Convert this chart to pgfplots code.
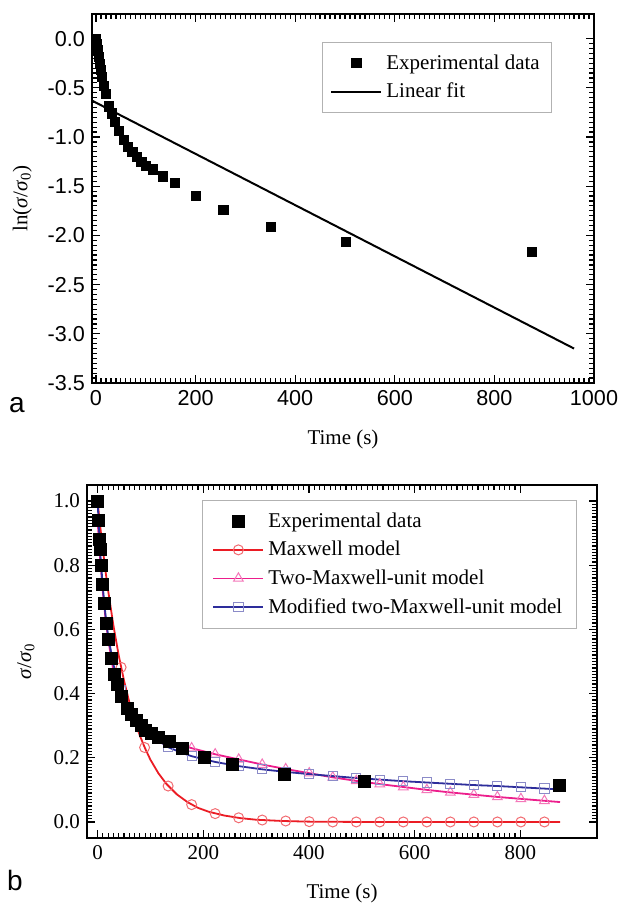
\documentclass[border=0pt]{standalone}
\usepackage{fontspec}
\setmainfont{Liberation Serif}
\newfontfamily\sansf{Liberation Sans}
\usepackage{pgfplots}
\pgfplotsset{compat=1.18}
\definecolor{mxred}{RGB}{235,28,36}
\definecolor{mxmag}{RGB}{236,30,140}
\definecolor{mxblue}{RGB}{45,45,155}
\pgfplotsset{
  common/.style={
    scale only axis, anchor=north west,
    tick align=inside, xtick pos=both, ytick pos=both,
    xticklabel pos=bottom, yticklabel pos=left,
    major tick length=4pt, minor tick length=2.4pt,
    tick style={black, line width=0.6pt},
    axis line style={line width=0.9pt},
    /pgf/number format/assume math mode=true,
    /pgf/number format/1000 sep={},
    legend cell align=left,
    legend image code/.code={\draw[mark repeat=2,mark phase=2,##1] plot coordinates {(0pt,0pt) (12.5pt,0pt) (25pt,0pt)};},
    label style={font=\fontsize{10.5}{12}\selectfont},
  }
}
\begin{document}
\begin{tikzpicture}
% ---------------- panel a
\begin{axis}[common,
  at={(46pt,-7pt)}, width=251pt, height=184.5pt,
  xmin=-8, xmax=1000, ymin=-3.5, ymax=0.25,
  xtick={0,200,...,1000}, ytick={-3.5,-3,...,0},
  minor x tick num=19, minor y tick num=9,
  tick label style={font=\sansf\fontsize{10.8}{12}\selectfont},
  yticklabel style={/pgf/number format/.cd, fixed, fixed zerofill, precision=1},
  xlabel={Time (s)},
  xlabel style={at={(axis description cs:0.5,-0.154)}, anchor=center},
  ylabel={ln(\textit{σ}/\textit{σ}\textsubscript{0})},
  ylabel style={at={(axis description cs:-0.139,0.5)}, anchor=center},
  legend style={at={(axis description cs:0.458,0.924)}, anchor=north west,
    draw=gray!60, line width=0.5pt, inner xsep=4pt, inner ysep=4pt,
    font=\fontsize{10.5}{12}\selectfont, row sep=1.5pt},
]
\addplot[only marks, mark=square*, mark size=2.3pt, black] coordinates {
(0,0.0)(2,-0.05)(4,-0.12)(6,-0.19)(8,-0.26)(10,-0.32)(12,-0.39)(16,-0.48)(20,-0.56)
(26,-0.69)(32,-0.76)(38,-0.85)(46,-0.94)(56,-1.03)(64,-1.10)(73,-1.15)(82,-1.20)
(91,-1.25)(101,-1.29)(115,-1.33)(135,-1.40)(158,-1.47)(200,-1.60)(256,-1.74)
(352,-1.91)(502,-2.07)(875,-2.17)};
\addlegendentry{Experimental data}
\addplot[black, line width=1pt] coordinates {(-8,-0.63)(960,-3.15)};
\addlegendentry{Linear fit}
\end{axis}
% ---------------- panel b
\begin{axis}[common,
  at={(43.5pt,-242.5pt)}, width=255pt, height=176.5pt,
  xmin=-20, xmax=945, ymin=-0.05, ymax=1.05,
  xtick={0,200,...,800}, ytick={0,0.2,...,1.0},
  minor x tick num=19, minor y tick num=19,
  tick label style={font=\fontsize{10.5}{12}\selectfont},
  yticklabel style={/pgf/number format/.cd, fixed, fixed zerofill, precision=1},
  xlabel={Time (s)},
  xlabel style={at={(axis description cs:0.5,-0.156)}, anchor=center},
  ylabel={\textit{σ}/\textit{σ}\textsubscript{0}},
  ylabel style={at={(axis description cs:-0.12,0.5)}, anchor=center},
  legend style={at={(axis description cs:0.2255,0.9575)}, anchor=north west,
    draw=gray!60, line width=0.5pt, inner xsep=5pt, inner ysep=4pt,
    font=\fontsize{10.5}{12}\selectfont, row sep=1.5pt},
]
% Maxwell model
\addplot[mxred, line width=0.9pt, forget plot] coordinates {
(0,1.000)(5,0.921)(10,0.849)(15,0.782)(20,0.721)(30,0.612)(40,0.519)(50,0.441)(60,0.374)
(70,0.317)(80,0.269)(90,0.229)(100,0.194)(115,0.152)(130,0.119)(150,0.086)(170,0.062)
(190,0.044)(210,0.032)(240,0.020)(270,0.012)(300,0.007)(350,0.003)(400,0.001)(500,0.0)(875,0.0)};
\addplot[only marks, mark=o, mark size=2.5pt, mark options={draw=mxred!65, line width=0.5pt}, forget plot] coordinates {
(0,1.0)(44.5,0.482)(89,0.232)(133.5,0.112)(178,0.054)(222.5,0.026)(267,0.013)(311.5,0.006)
(356,0.003)(400.5,0.001)(445,0.0)(489.5,0.0)(534,0.0)(578.5,0.0)(623,0.0)(667.5,0.0)
(712,0.0)(756.5,0.0)(801,0.0)(845.5,0.0)};
% Two-Maxwell-unit model
\addplot[mxmag, line width=0.9pt, forget plot] coordinates {
(0,0.941)(5,0.817)(10,0.716)(15,0.635)(20,0.569)(30,0.471)(44.5,0.384)(60,0.332)(75,0.302)
(89,0.284)(110,0.265)(133.5,0.251)(178,0.230)(222.5,0.211)(267,0.195)(311.5,0.179)
(356,0.165)(400.5,0.152)(445,0.139)(489.5,0.128)(534,0.118)(578.5,0.109)(623,0.100)
(667.5,0.092)(712,0.085)(756.5,0.078)(801,0.072)(845.5,0.066)(875,0.062)};
\addplot[only marks, mark=triangle, mark size=2.8pt, mark options={draw=mxmag!60, line width=0.5pt}, forget plot] coordinates {
(0,0.941)(44.5,0.384)(89,0.284)(133.5,0.251)(178,0.230)(222.5,0.211)(267,0.195)(311.5,0.179)
(356,0.165)(400.5,0.152)(445,0.139)(489.5,0.128)(534,0.118)(578.5,0.109)(623,0.100)
(667.5,0.092)(712,0.085)(756.5,0.078)(801,0.072)(845.5,0.066)};
% Modified two-Maxwell-unit model
\addplot[mxblue, line width=0.9pt, forget plot] coordinates {
(0,1.0)(5,0.84)(10,0.73)(15,0.645)(20,0.58)(30,0.49)(44.5,0.41)(60,0.355)(75,0.315)(89,0.29)
(110,0.258)(133.5,0.233)(160,0.215)(178,0.205)(222.5,0.187)(267,0.174)(311.5,0.164)
(356,0.156)(400.5,0.149)(445,0.143)(489.5,0.137)(534,0.132)(578.5,0.127)(623,0.123)
(667.5,0.119)(712,0.115)(756.5,0.112)(801,0.108)(845.5,0.104)(875,0.101)};
\addplot[only marks, mark=square, mark size=2.3pt, mark options={draw=mxblue!55, line width=0.5pt}, forget plot] coordinates {
(0,1.0)(44.5,0.41)(89,0.29)(133.5,0.233)(178,0.205)(222.5,0.187)(267,0.174)(311.5,0.164)
(356,0.156)(400.5,0.149)(445,0.143)(489.5,0.137)(534,0.132)(578.5,0.127)(623,0.123)
(667.5,0.119)(712,0.115)(756.5,0.112)(801,0.108)(845.5,0.104)};
% Experimental data
\addplot[only marks, mark=square*, mark size=3pt, black, forget plot] coordinates {
(0,1.00)(2,0.94)(4,0.88)(6,0.85)(8,0.80)(10,0.74)(12,0.68)(16,0.62)(20,0.57)(26,0.51)
(32,0.46)(38,0.43)(46,0.39)(56,0.355)(64,0.335)(73,0.315)(82,0.30)(91,0.285)(101,0.275)
(115,0.265)(135,0.25)(160,0.23)(202,0.20)(255,0.178)(354,0.147)(504,0.126)(874,0.115)};
\addlegendimage{only marks, mark=square*, mark size=3pt, black}
\addlegendentry{Experimental data}
\addlegendimage{mxred, line width=0.9pt, mark=o, mark size=2.5pt, mark options={draw=mxred!65, line width=0.5pt}}
\addlegendentry{Maxwell model}
\addlegendimage{mxmag, line width=0.9pt, mark=triangle, mark size=2.8pt, mark options={draw=mxmag!60, line width=0.5pt}}
\addlegendentry{Two-Maxwell-unit model}
\addlegendimage{mxblue, line width=0.9pt, mark=square, mark size=2.3pt, mark options={draw=mxblue!55, line width=0.5pt}}
\addlegendentry{Modified two-Maxwell-unit model}
\end{axis}
\node[font=\sansf\fontsize{14}{16}\selectfont] at (8.5pt,-202.5pt) {a};
\node[font=\sansf\fontsize{14}{16}\selectfont] at (7.5pt,-440pt) {b};
\pgfresetboundingbox
\path[use as bounding box] (0,0) rectangle (310pt,-452pt);
\end{tikzpicture}
\end{document}
